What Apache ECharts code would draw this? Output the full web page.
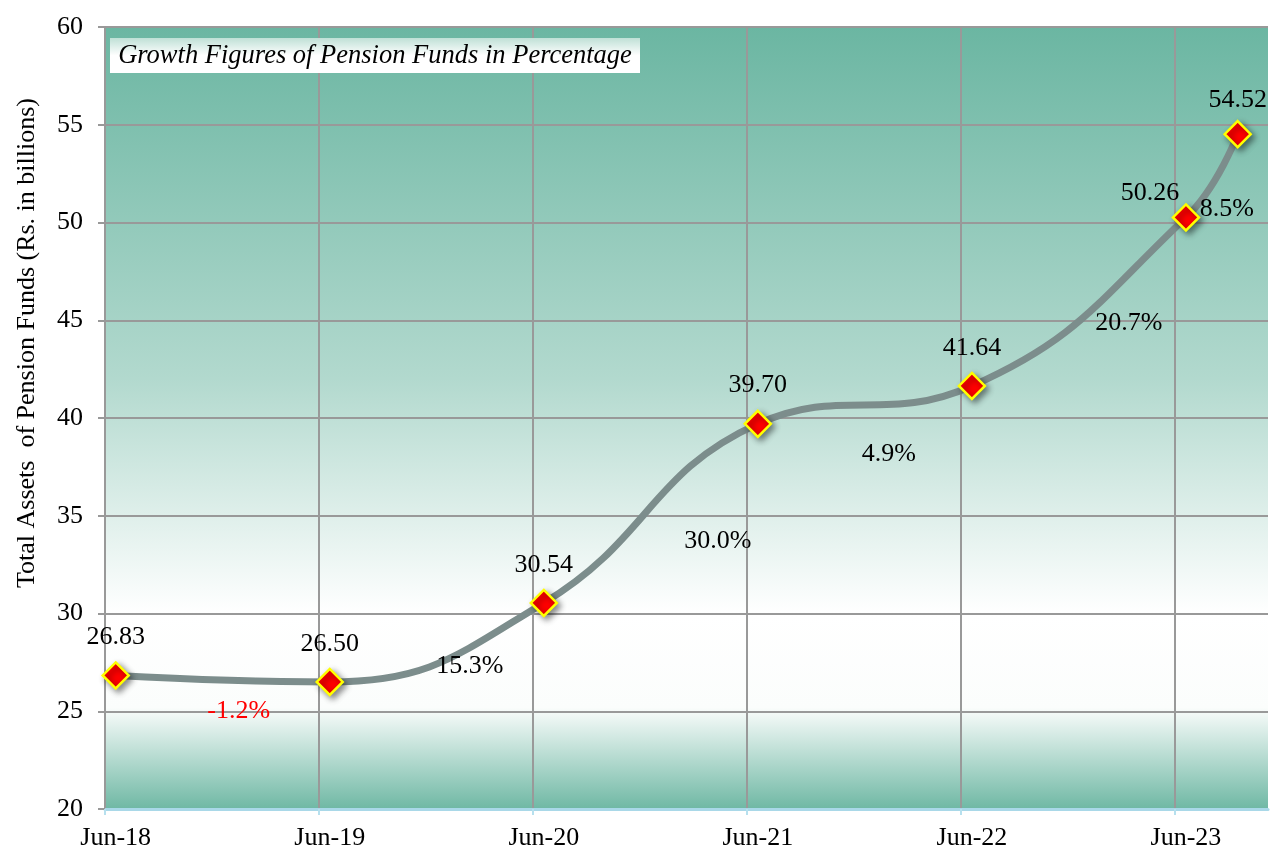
<!DOCTYPE html>
<html>
<head>
<meta charset="utf-8">
<script src="https://cdn.jsdelivr.net/npm/echarts@6/dist/echarts.min.js"></script>
<style>
html,body{margin:0;padding:0;background:#fff;}
#chart{width:1273px;height:851px;}
</style>
</head>
<body>
<div id="chart"></div>
<script>
// ---- data ----
var tickLabels = ['Jun-18', 'Jun-19', 'Jun-20', 'Jun-21', 'Jun-22', 'Jun-23'];
var tickMonths = [0, 12, 24, 36, 48, 60];            // months since Jun-18 (gridlines)
var pointMonths = [0.6, 12.6, 24.6, 36.6, 48.6, 60.6, 63.5]; // months since Jun-18 (observations)
var totalAssets = [26.83, 26.50, 30.54, 39.70, 41.64, 50.26, 54.52];
var growthPct = [-1.2, 15.3, 30.0, 4.9, 20.7, 8.5];

// ---- styling ----
var FONT = '"Liberation Serif", "Times New Roman", serif';
var growthOffsets = [[16, 32], [33, 24], [67, 28], [24, 49], [50, 21], [15, 33]];
var valueLabelOffsets = [[0, 0], [0, 0], [0, 0], [0, 0], [0, 0], [-36, 14], [0, 4]];

var lineData = pointMonths.map(function (m, i) {
  return {
    value: [m, totalAssets[i]],
    label: { offset: valueLabelOffsets[i] }
  };
});

var growthData = growthPct.map(function (g, i) {
  return {
    value: [(pointMonths[i] + pointMonths[i + 1]) / 2, (totalAssets[i] + totalAssets[i + 1]) / 2, g],
    label: {
      offset: growthOffsets[i],
      color: g < 0 ? '#ff0000' : '#000000'
    }
  };
});

var chart = echarts.init(document.getElementById('chart'), null, { renderer: 'canvas' });

var bg = new echarts.graphic.LinearGradient(0, 0, 0, 1, [
  { offset: 0, color: '#6bb6a2' },
  { offset: 0.45, color: '#b2d9ce' },
  { offset: 0.75, color: '#ffffff' },
  { offset: 0.87, color: '#fbfdfc' },
  { offset: 1, color: '#6fb8a4' }
]);

var option = {
  animation: false,
  backgroundColor: '#ffffff',
  grid: {
    left: 105, right: 5, top: 27, bottom: 42,
    show: true, backgroundColor: bg, borderWidth: 0
  },
  xAxis: {
    type: 'value',
    min: 0,
    max: 65.2,
    interval: 12,
    axisLine: { show: true, lineStyle: { color: '#a9d8e8', width: 3 } },
    axisTick: { show: true, length: 6, customValues: tickMonths, lineStyle: { color: '#b7e0ee', width: 2 } },
    axisLabel: {
      customValues: pointMonths.slice(0, tickLabels.length),
      formatter: function (v) {
        var idx = Math.round((v - pointMonths[0]) / 12);
        return tickLabels[idx] || '';
      },
      fontFamily: FONT, fontSize: 26, color: '#000', margin: 16
    },
    splitLine: {
      show: true,
      lineStyle: { color: ['#999999', '#999999', '#999999', '#999999', '#999999', '#999999', 'transparent'], width: 2 }
    }
  },
  yAxis: {
    type: 'value',
    min: 20, max: 60, interval: 5,
    axisLine: { show: true, lineStyle: { color: '#999999', width: 2 } },
    axisTick: { show: true, length: 7, lineStyle: { color: '#999999', width: 2 } },
    axisLabel: { fontFamily: FONT, fontSize: 26, color: '#000', margin: 22 },
    splitLine: { show: true, lineStyle: { color: '#999999', width: 2 } }
  },
  series: [
    {
      type: 'line',
      data: lineData,
      smooth: 0.45,
      symbol: 'diamond',
      symbolSize: 26,
      lineStyle: { color: '#7c8d8c', width: 7 },
      itemStyle: {
        color: '#ff0000', borderColor: '#ffff00', borderWidth: 2.5,
        shadowBlur: 6, shadowColor: 'rgba(0,0,0,0.45)', shadowOffsetX: 3, shadowOffsetY: 3
      },
      label: {
        show: true, position: 'top', distance: 11,
        formatter: function (p) { return p.value[1].toFixed(2); },
        fontFamily: FONT, fontSize: 26, color: '#000'
      },
      z: 3
    },
    {
      type: 'scatter',
      data: growthData,
      symbolSize: 0.1,
      itemStyle: { color: 'rgba(0,0,0,0)', opacity: 1 },
      label: {
        show: true, position: 'inside',
        formatter: function (p) { return p.value[2].toFixed(1) + '%'; },
        fontFamily: FONT, fontSize: 26, opacity: 1
      },
      silent: true,
      z: 4
    }
  ],
  graphic: [
    {
      type: 'rect',
      shape: { x: 110, y: 38, width: 530, height: 35 },
      style: {
        fill: new echarts.graphic.LinearGradient(0, 0, 0, 1, [
          { offset: 0, color: '#bfe0d6' },
          { offset: 0.5, color: '#ffffff' },
          { offset: 1, color: '#ffffff' }
        ])
      },
      z: 10
    },
    {
      type: 'text',
      x: 375, y: 56,
      style: {
        text: 'Growth Figures of Pension Funds in Percentage',
        font: 'italic 26.5px ' + FONT,
        fill: '#000', align: 'center', verticalAlign: 'middle'
      },
      z: 11
    },
    {
      type: 'text',
      x: 27, y: 343,
      rotation: Math.PI / 2,
      style: {
        text: 'Total Assets  of Pension Funds (Rs. in billions)',
        font: '26px ' + FONT,
        fill: '#000', align: 'center', verticalAlign: 'middle'
      },
      z: 11
    }
  ]
};

chart.setOption(option);
</script>
</body>
</html>
